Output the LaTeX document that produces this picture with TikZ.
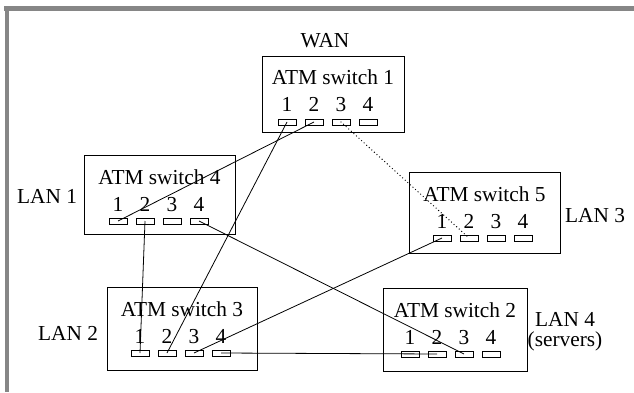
\documentclass[tikz,border=0pt]{standalone}
\usepackage{fontspec}
\setmainfont{Liberation Serif}
\usetikzlibrary{positioning}
\pgfkeys{/tikz/.cd,
    net style/.style={
        x=0.75pt, y=-0.75pt,   % one unit = one pixel, y downwards
        line width=0.6pt,
        font=\fontsize{16}{19}\selectfont
    },
    switch box/.style={draw, rectangle, inner sep=0pt},
    port box/.style={draw, rectangle, inner sep=0pt,
        minimum width=13.5pt, minimum height=4.5pt},
    link/.style={line width=0.6pt},
    spare link/.style={line width=1pt, line cap=round, dash pattern=on 0pt off 2.6pt},
    frame bar/.style={fill=gray!95!white, draw=none}
}

\begin{document}
\begin{tikzpicture}[net style]

    \useasboundingbox (0,0) rectangle (634,392);

    % --- 1. outer frame (top and left edges only) ---
    \fill[frame bar] (4,6) rectangle (634,11);
    \fill[frame bar] (5,6) rectangle (9,392);

    % --- 2. switches: name / centre x / top y / width / height / first port x ---
    \foreach \n/\x/\y/\w/\h/\p in {1/333/56/142/76/287,
                                  4/159.5/155/151/79/118,
                                  5/484.5/172/151/81/442,
                                  3/182/287/150/83/140,
                                  2/455/288/144/83/410} {
        \node[switch box, anchor=north, minimum width={\w*0.75pt},
              minimum height={\h*0.75pt}] (sw\n) at (\x,\y) {};
        \node[anchor=base] (title\n) at (\x,{\y+29}) {ATM switch \n};
        \foreach \k in {1,...,4} {
            \node[anchor=base] (num\n-\k) at ({\p+27*(\k-1)},{\y+56}) {\k};
            \node[port box] (s\n-\k) at ({\p+27*(\k-1)},{\y+66}) {};
        }
    }

    % --- 3. network labels ---
    \node[anchor=base] (wan)  at (325,48)  {WAN};
    \node[anchor=base] (lan1) at (47,203)  {LAN 1};
    \node[anchor=base] (lan2) at (68,340)  {LAN 2};
    \node[anchor=base] (lan3) at (595,222) {LAN 3};
    \node[align=center, font=\fontsize{16}{15}\selectfont] (lan4) at (565,332)
        {LAN 4\\(servers)};

    % --- 4. links between ports ---
    \draw[link] (s1-1.center) -- (s3-2.center);
    \draw[link] (s1-2.center) -- (s4-1.center);
    \draw[spare link] (s1-3.center) -- (s5-2.center);
    \draw[link] (s4-2.center) -- (s3-1.center);
    \draw[link] (s4-4.center) -- (s2-3.center);
    \draw[link] (s5-1.center) -- (s3-3.center);
    \draw[link] (s3-4.center) -- (s2-2.center);

\end{tikzpicture}
\end{document}
